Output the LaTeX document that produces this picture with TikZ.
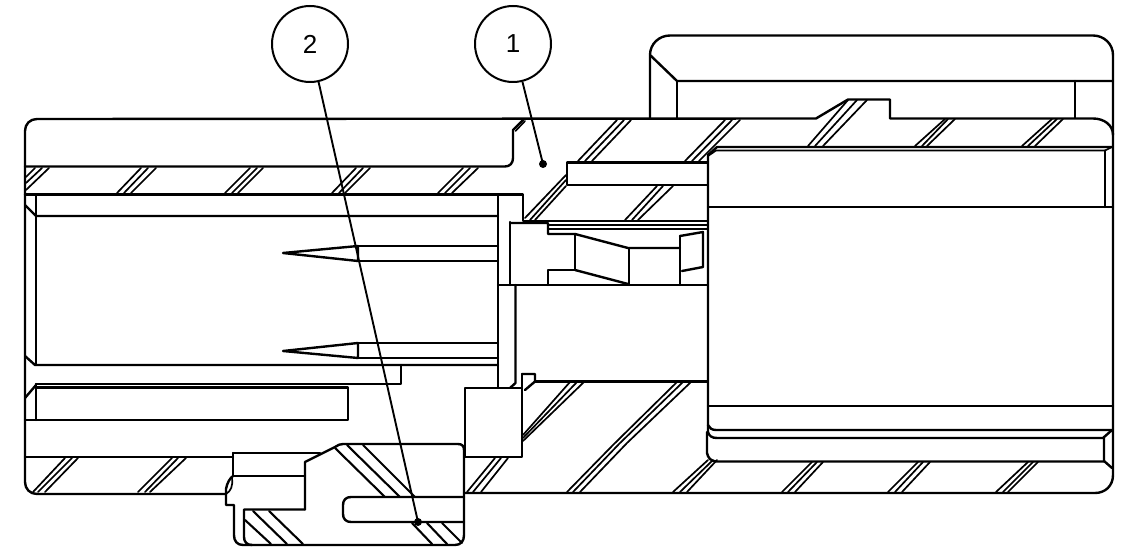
\documentclass[tikz,border=0pt]{standalone}
\usepackage{fontspec}
\setmainfont{Liberation Sans}
\newcommand{\hh}[8]{%
  \draw[hatchline] (#3,#1)--(#6,#2);
  \draw[hatchline] (#4,#1)--(#7,#2);
  \draw[hatchline] (#5,#1)--(#8,#2);}
\tikzset{
  part/.style={line width=2.4pt,line cap=round,line join=round},
  wide/.style={line width=2.1pt,line cap=round},
  hatchline/.style={line width=1.7pt,line cap=round},
  callout/.style={circle,draw,line width=2pt,minimum size=76pt,inner sep=0pt,font=\fontsize{26}{26}\selectfont},
  leader/.style={line width=1.9pt},
  tipdot/.style={circle,fill=black,inner sep=0pt,minimum size=8pt}
}
\begin{document}
\begin{tikzpicture}[x=1pt,y=-1pt]
\useasboundingbox (0,0) rectangle (1124,548);
% outer body
\draw[part] (226,494)--(37,494) .. controls (30,494) and (25,489) .. (25,482)--(25,131) .. controls (25,124) and (30,119) .. (37,119)--(816,118.5)--(848,99.5)--(890,99.5)--(890,118.5)--(1093,118.5) .. controls (1104,118.5) and (1113,125) .. (1113,135);
\draw[part] (1113,55)--(1113,475) .. controls (1113,486) and (1105,493) .. (1095,493)--(464,493);
% nut
\draw[part] (650,118)--(650,55) .. controls (650,44) and (659,35.5) .. (670,35.5)--(1093,35.5) .. controls (1104,35.5) and (1113,44) .. (1113,55);
\draw[part] (650,55)--(677,81)--(1113,81);
\draw[part] (677,81)--(677,118);
\draw[part] (1075,81)--(1075,118);
% upper bands left
\draw[part] (25,166.5)--(505,166.5) .. controls (510,166.5) and (513,163) .. (513,158)--(513,130)--(523,120);
\draw[hatchline] (515.5,131)--(525,121);
\draw[part] (25,194.5)--(523,194.5)--(523,221)--(707,221);
\draw[part] (498,194.5)--(498,388);
\draw[part] (36,194.5)--(36,365);
\draw[part] (25,205)--(36,216)--(498,216);
\draw[part] (25,356)--(35,365)--(498,365);
% rods
\draw[part] (36,384)--(401,384)--(401,365);
\draw[part] (25,398)--(36,385);
\draw[part] (36,384)--(36,420);
\draw[part] (36,387.5)--(348,387.5)--(348,420)--(25,420);
\draw[part] (25,457)--(233,457);
% pins
\draw[part] (358,246)--(283,253)--(358,261)--cycle;
\draw[part] (358,246)--(498,246);
\draw[part] (358,261)--(498,261);
\draw[part] (358,343)--(283,351)--(358,358)--cycle;
\draw[part] (358,343)--(498,343);
\draw[part] (358,358)--(498,358);
% inner mechanism
\draw[part] (498,285)--(707,285);
\draw[part] (510,222)--(510,285);
\draw[part] (510,223)--(548,223)--(548,234)--(575,234)--(628,248)--(680,248);
\draw[hatchline] (548,225)--(707,225);
\draw[hatchline] (548,229)--(707,229);
\draw[part] (575,234)--(575,270)--(548,270)--(548,285);
\draw[part] (575,270)--(628,284);
\draw[part] (629,248)--(629,285);
\draw[part] (680,236)--(680,285);
\draw[part] (680,236)--(703,232)--(703,267)--(682,271);
\draw[part] (515.5,285)--(515.5,383)--(510,388);
% upper box
\draw[part] (707,162.5)--(567,162.5)--(567,185)--(707,185);
% right cavity
\draw[part] (708,155)--(717,147)--(1112,147);
\draw[hatchline] (708,156)--(716,150.5)--(1105,150.5)--(1112,147);
\draw[part] (1105,150.5)--(1105,207);
\draw[part] (708,207)--(1113,207);
\draw[part] (708,155)--(708,425) .. controls (709,428) and (712,430) .. (716,430)--(1112,430);
\draw[part] (708,406)--(1113,406);
\draw[part] (708,425)--(708,432) .. controls (709,436) and (712,438) .. (717,438)--(1103,438)--(1112,430);
\draw[part] (1104,438)--(1104,461)--(1112,468);
\draw[part] (707,432)--(707,453) .. controls (708,458) and (711,461.5) .. (717,461.5)--(1104,461.5);
% collar
\draw[part] (465,388)--(522,388)--(522,457)--(465,457)--cycle;
\draw[part] (522,374)--(535,374)--(535,381.5)--(525,390);
\draw[part] (522,374)--(522,388);
\draw[part] (535,381.5)--(707,381.5);
% clip
\draw[part] (233,457)--(233,453)--(320,453);
\draw[part] (233,453)--(233,476)--(305,476);
\draw[part] (305,509.5)--(305,462)--(335,447) .. controls (338,445) and (340,444) .. (343,444)--(458,444) .. controls (462,444) and (464,446) .. (464,450)--(464,535) .. controls (464,541) and (461,545) .. (455,545)--(243,545) .. controls (237,545) and (234,541) .. (234,535)--(234,505)--(226,505)--(226,489) .. controls (227,483) and (230,478) .. (233,476);
\draw[hatchline] (226,494) .. controls (231,491) and (233,486) .. (232,478);
\draw[part] (305,509.5)--(244,509.5)--(244,537) .. controls (244,542) and (247,545) .. (252,545);
\draw[part] (464,497)--(351,497) .. controls (346,497) and (343,500) .. (343,505)--(343,514) .. controls (343,519) and (346,522) .. (351,522)--(464,522);
% wide hatches of the clip
\draw[wide] (335,448)--(385,497);
\draw[wide] (347,445)--(400,497);
\draw[wide] (363,445)--(415,497);
\draw[wide] (412,523)--(432,544);
\draw[wide] (427,523)--(447,544);
\draw[wide] (442,523)--(462,543);
\draw[wide] (245,520)--(271,544);
\draw[wide] (253,511)--(287,544);
\draw[wide] (269,511)--(303,544);
% section hatches
\draw[hatchline] (26,177)--(35,168);
\draw[hatchline] (26,183)--(42,168);
\draw[hatchline] (26,190)--(49,168);
\hh{193}{168}{117}{124}{131}{141}{148}{156}
\hh{193}{168}{225}{232}{238}{250}{257}{263}
\hh{193}{168}{332}{339}{345}{356}{363}{370}
\hh{193}{168}{438}{445}{452}{463}{470}{478}
\hh{492}{458}{33}{38}{45}{65}{72}{78}
\hh{492}{458}{138}{145}{150}{172}{178}{186}
\hh{161}{120}{578}{585}{592}{617}{624}{631}
\hh{161}{120}{685}{692}{699}{725}{732}{740}
\hh{146}{100}{808}{815}{823}{848}{857}{867}
\hh{146}{119}{915}{922}{927}{945}{948}{955}
\hh{146}{119}{1022}{1028}{1035}{1052}{1057}{1063}
\hh{220}{186}{625}{632}{638}{657}{663}{673}
\draw[hatchline] (525,218)--(566,175);
\draw[hatchline] (530,220)--(566,180);
\draw[hatchline] (535,220)--(566,186);
\hh{492}{458}{467}{473}{481}{495}{501}{508}
\draw[hatchline] (523,435)--(570,382);
\draw[hatchline] (523,438)--(577,382);
\draw[hatchline] (523,441)--(584,382);
\draw[hatchline] (567,492)--(613,445)--(677,382);
\draw[hatchline] (573,492)--(619,444)--(683,382);
\draw[hatchline] (580,492)--(627,443)--(691,382);
\hh{492}{460}{673}{680}{687}{708}{713}{717}
\hh{492}{462}{782}{788}{795}{812}{817}{823}
\hh{492}{462}{888}{895}{902}{918}{923}{930}
\hh{492}{462}{996}{1003}{1008}{1028}{1033}{1038}
% callouts
\node[callout] (c2) at (310,44) {2};
\node[callout] (c1) at (513,44) {1};
\node[tipdot] (d1) at (543,164) {};
\node[tipdot] (d2) at (418,522) {};
\draw[leader] (c1)--(d1.center);
\draw[leader] (c2)--(d2.center);
\end{tikzpicture}
\end{document}
